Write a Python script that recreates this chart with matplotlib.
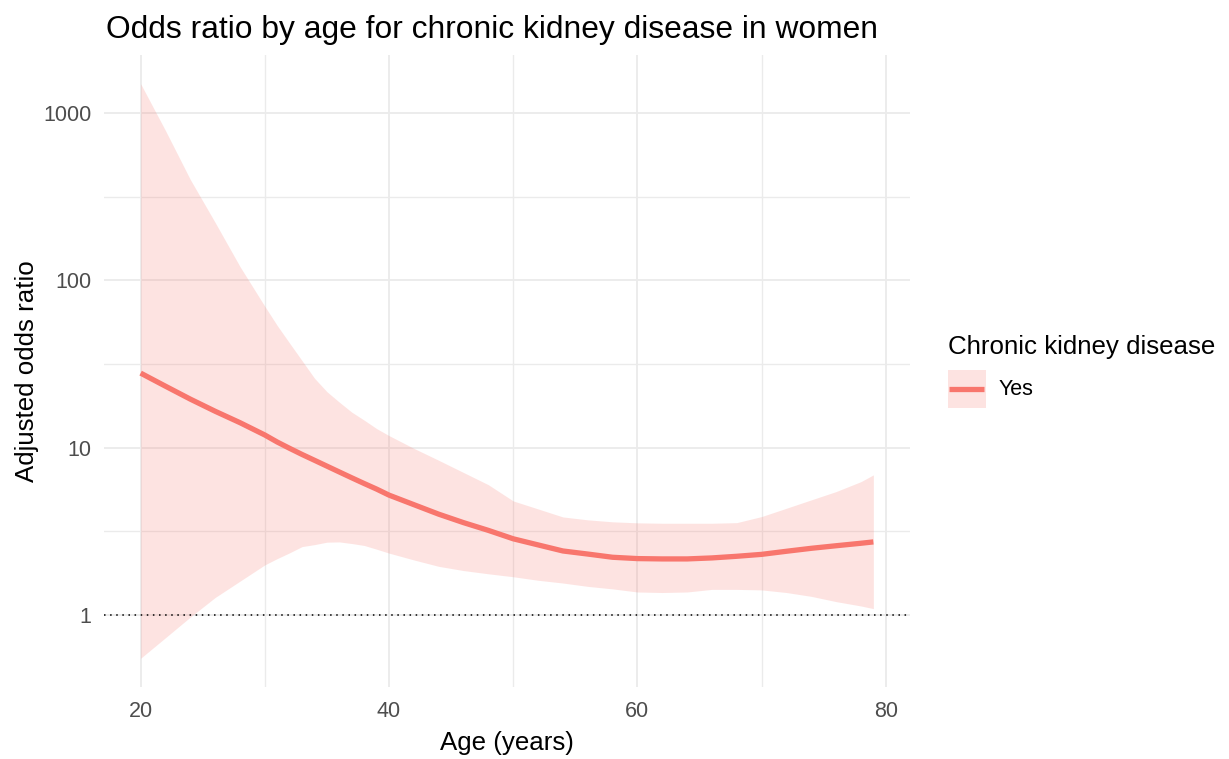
import matplotlib
matplotlib.use("Agg")
import matplotlib.pyplot as plt
from matplotlib.lines import Line2D
from matplotlib.patches import Patch, Rectangle
from matplotlib.legend_handler import HandlerBase
from matplotlib.ticker import FixedLocator, NullFormatter
import numpy as np

plt.rcParams['font.family'] = ['Liberation Sans', 'DejaVu Sans']

# Age grid (years)
age = [20, 22, 24, 26, 28, 30, 31, 32, 33, 34, 35, 36, 37, 38, 39, 40, 42,
       44, 46, 48, 50, 52, 54, 56, 58, 60, 62, 64, 66, 68, 70, 72, 74, 76,
       78, 79]

# Adjusted odds ratio estimate
odds_ratio = [27.9, 23.3, 19.5, 16.5, 14.1, 11.9, 10.8, 9.9, 9.1, 8.4, 7.75,
              7.15, 6.6, 6.1, 5.65, 5.2, 4.56, 4.0, 3.56, 3.2, 2.85, 2.62,
              2.41, 2.31, 2.21, 2.17, 2.16, 2.16, 2.19, 2.24, 2.30, 2.40,
              2.50, 2.59, 2.68, 2.73]

# 95% confidence limits
ci_upper = [1500, 787, 401, 222, 121, 70, 53.7, 42.1, 33.1, 26.0, 21.6,
            18.7, 16.3, 14.6, 13.0, 11.8, 9.9, 8.4, 7.1, 6.0, 4.8, 4.3,
            3.85, 3.7, 3.6, 3.55, 3.53, 3.53, 3.53, 3.56, 3.87, 4.34, 4.87,
            5.46, 6.26, 6.87]
ci_lower = [0.55, 0.73, 0.97, 1.27, 1.59, 1.99, 2.17, 2.35, 2.56, 2.63, 2.72,
            2.73, 2.67, 2.6, 2.47, 2.34, 2.13, 1.95, 1.84, 1.76, 1.69, 1.61,
            1.55, 1.48, 1.43, 1.37, 1.36, 1.37, 1.42, 1.42, 1.41, 1.36, 1.29,
            1.20, 1.13, 1.09]

x_ticks = [20, 40, 60, 80]
y_ticks = [1, 10, 100, 1000]
y_tick_labels = ["1", "10", "100", "1000"]

line_color = "#F8766D"
grid_color = "#EBEBEB"
text_gray = "#4D4D4D"
line_width = 3.8


class RibbonKeyHandler(HandlerBase):
    """Legend key: shaded square with the estimate line across its middle."""

    def create_artists(self, legend, orig_handle, xdescent, ydescent,
                       width, height, fontsize, trans):
        x0, y0 = -xdescent, -ydescent
        box = Rectangle((x0, y0), width, height, facecolor=line_color,
                        alpha=0.2, edgecolor="none", transform=trans)
        cy = y0 + height / 2
        line = Line2D([x0 + 1, x0 + width - 1], [cy, cy], color=line_color,
                      linewidth=line_width, solid_capstyle="butt",
                      transform=trans)
        return [box, line]


W, H = 1229, 759
fig = plt.figure(figsize=(W / 100, H / 100), dpi=100)
ax = fig.add_axes([104 / W, 1 - 687 / H, (910 - 104) / W, (687 - 55) / H])

ax.set_yscale("log")
ax.fill_between(age, ci_lower, ci_upper, color=line_color, alpha=0.2,
                linewidth=0, zorder=2)
ax.plot(age, odds_ratio, color=line_color, linewidth=line_width,
        solid_capstyle="butt", solid_joinstyle="round", zorder=3)
ax.axhline(1, color="black", linestyle=(0, (1, 3)), linewidth=1.1, zorder=4)

# Axis limits with 5% padding (log space for y)
xmin, xmax = min(age), max(age)
xpad = 0.05 * (xmax - xmin)
ax.set_xlim(xmin - xpad, xmax + xpad)
lo, hi = np.log10(min(ci_lower)), np.log10(max(ci_upper))
ypad = 0.05 * (hi - lo)
ax.set_ylim(10 ** (lo - ypad), 10 ** (hi + ypad))

ax.xaxis.set_major_locator(FixedLocator(x_ticks))
ax.xaxis.set_minor_locator(FixedLocator([30, 50, 70]))
ax.yaxis.set_major_locator(FixedLocator(y_ticks))
ax.yaxis.set_minor_locator(FixedLocator([10 ** 0.5, 10 ** 1.5, 10 ** 2.5]))
ax.set_yticklabels(y_tick_labels)
ax.yaxis.set_minor_formatter(NullFormatter())

ax.grid(True, which="major", color=grid_color, linewidth=1.3, zorder=0)
ax.grid(True, which="minor", color=grid_color, linewidth=1.0, zorder=0)
ax.set_axisbelow(True)
for s in ax.spines.values():
    s.set_visible(False)
ax.tick_params(which="both", length=0)
ax.tick_params(axis="x", labelsize=15.5, labelcolor=text_gray, pad=10)
ax.tick_params(axis="y", labelsize=15.5, labelcolor=text_gray, pad=9)

ax.set_xlabel("Age (years)", fontsize=18.6, labelpad=6.5, color="black")
ax.set_ylabel("Adjusted odds ratio", fontsize=18.6, labelpad=3, color="black")
fig.text(106 / W, 1 - 38 / H,
         "Odds ratio by age for chronic kidney disease in women",
         fontsize=22.9, color="black", ha="left", va="baseline")

key = Patch(facecolor=line_color)
leg = fig.legend([key], ["Yes"], title="Chronic kidney disease",
                 loc="upper left", bbox_to_anchor=(948 / W, 1 - 335 / H),
                 frameon=False, fontsize=15.5, title_fontsize=18.6,
                 handler_map={Patch: RibbonKeyHandler()},
                 handlelength=1.75, handleheight=2.32, handletextpad=0.6,
                 borderpad=0, borderaxespad=0, labelspacing=0.5,
                 alignment="left")

fig.savefig("out.png", dpi=100, facecolor="white")
